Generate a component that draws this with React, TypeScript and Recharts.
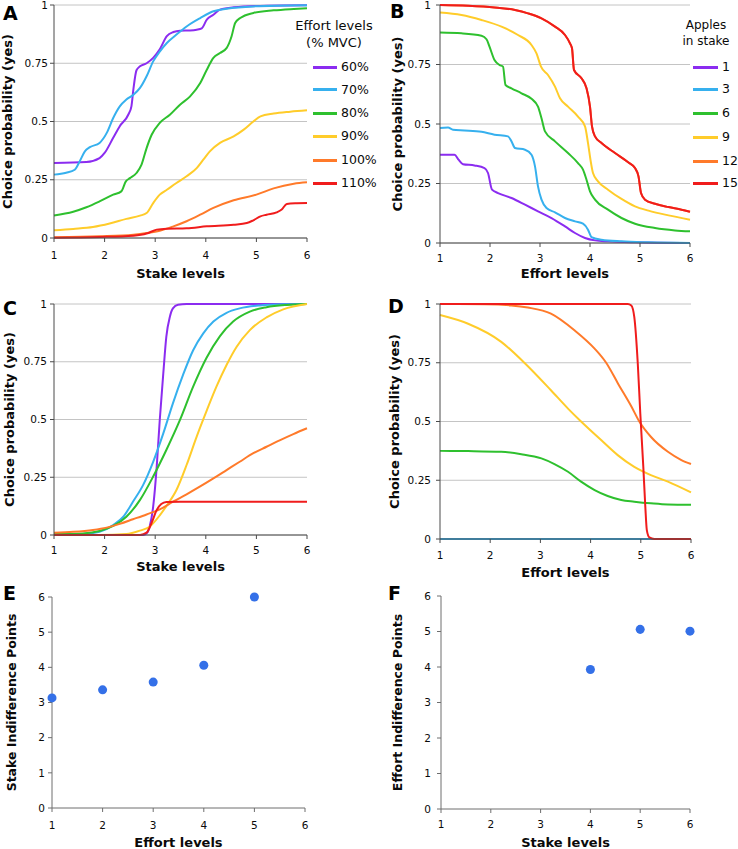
import React from 'react';
import { LineChart, Line, XAxis, YAxis, CartesianGrid, Legend, ScatterChart, Scatter, ZAxis } from 'recharts';

const FONT = '"DejaVu Sans", Verdana, sans-serif';

// ---------- shared ----------
const COLORS = ['#8b2cf0', '#36b0ee', '#2ec02e', '#ffcc2a', '#ff7a2a', '#f01c1c'];
const PROB_TICKS = [0, 0.25, 0.5, 0.75, 1];
const LEVEL_TICKS = [1, 2, 3, 4, 5, 6];
const POINT_TICKS_Y = [0, 1, 2, 3, 4, 5, 6];
const A_NAMES = ['60%', '70%', '80%', '90%', '100%', '110%'];
const B_NAMES = ['1', '3', '6', '9', '12', '15'];
const A_LEGEND_TITLE = ['Effort levels', '(% MVC)'];
const B_LEGEND_TITLE = ['Apples', 'in stake'];

// ---------- panel A (x: stake levels) ----------
const A_x_60 = [1, 1.64, 1.9, 2.0, 2.17, 2.3, 2.47, 2.53, 2.57, 2.63, 2.7, 2.83, 2.96, 3.09, 3.23, 3.36, 3.49, 3.69, 3.82, 3.92, 4.02, 4.15, 4.28, 4.55, 5.2, 6];
const A_y_60 = [0.322, 0.326, 0.343, 0.365, 0.43, 0.48, 0.53, 0.565, 0.64, 0.72, 0.737, 0.75, 0.773, 0.81, 0.866, 0.884, 0.89, 0.891, 0.894, 0.9, 0.937, 0.958, 0.98, 0.99, 0.997, 0.999];
const A_x_70 = [1, 1.24, 1.41, 1.51, 1.61, 1.71, 1.9, 2.04, 2.17, 2.3, 2.43, 2.57, 2.7, 2.83, 2.96, 3.09, 3.23, 3.42, 3.62, 3.89, 4.15, 4.41, 4.94, 6];
const A_y_70 = [0.272, 0.28, 0.293, 0.33, 0.372, 0.39, 0.408, 0.45, 0.515, 0.565, 0.594, 0.615, 0.644, 0.694, 0.758, 0.8, 0.837, 0.873, 0.908, 0.944, 0.973, 0.984, 0.994, 0.999];
const A_x_80 = [1, 1.38, 1.64, 1.9, 2.17, 2.33, 2.42, 2.5, 2.63, 2.73, 2.83, 2.93, 3.09, 3.29, 3.49, 3.69, 3.89, 4.02, 4.15, 4.28, 4.41, 4.51, 4.58, 4.68, 4.94, 5.34, 5.74, 6];
const A_y_80 = [0.097, 0.113, 0.132, 0.157, 0.186, 0.2, 0.243, 0.257, 0.279, 0.315, 0.386, 0.443, 0.494, 0.529, 0.572, 0.608, 0.665, 0.722, 0.773, 0.794, 0.815, 0.866, 0.923, 0.944, 0.966, 0.977, 0.983, 0.986];
const A_x_90 = [1, 1.38, 1.77, 2.1, 2.43, 2.7, 2.83, 2.96, 3.09, 3.23, 3.42, 3.62, 3.82, 3.95, 4.08, 4.28, 4.55, 4.75, 4.94, 5.08, 5.34, 5.67, 6];
const A_y_90 = [0.033, 0.039, 0.047, 0.062, 0.082, 0.096, 0.107, 0.15, 0.186, 0.207, 0.236, 0.265, 0.3, 0.336, 0.372, 0.408, 0.436, 0.465, 0.5, 0.522, 0.534, 0.542, 0.548];
const A_x_100 = [1, 1.9, 2.57, 2.83, 3.09, 3.36, 3.62, 3.89, 4.15, 4.55, 5.0, 5.34, 5.74, 6];
const A_y_100 = [0.003, 0.007, 0.014, 0.021, 0.031, 0.05, 0.072, 0.1, 0.129, 0.162, 0.186, 0.213, 0.233, 0.239];
const A_x_110 = [1, 1.9, 2.57, 2.83, 3.03, 3.23, 3.62, 4.02, 4.55, 4.81, 4.94, 5.08, 5.2, 5.4, 5.5, 5.6, 5.8, 6];
const A_y_110 = [0.001, 0.004, 0.01, 0.019, 0.036, 0.04, 0.042, 0.05, 0.057, 0.064, 0.076, 0.093, 0.1, 0.11, 0.122, 0.146, 0.149, 0.15];

// ---------- panel B (x: effort levels) ----------
const B_x_1 = [1, 1.29, 1.37, 1.46, 1.69, 1.89, 1.96, 2.04, 2.16, 2.43, 2.7, 2.96, 3.23, 3.5, 3.7, 3.9, 4.1, 4.36, 4.9, 6];
const B_y_1 = [0.371, 0.371, 0.35, 0.331, 0.326, 0.315, 0.294, 0.224, 0.21, 0.189, 0.161, 0.133, 0.105, 0.07, 0.042, 0.021, 0.011, 0.007, 0.003, 0];
const B_x_3 = [1, 1.16, 1.26, 1.49, 1.83, 2.09, 2.36, 2.43, 2.5, 2.7, 2.83, 2.9, 2.96, 3.03, 3.13, 3.3, 3.5, 3.7, 3.86, 3.96, 4.03, 4.23, 4.63, 5.17, 6];
const B_y_3 = [0.483, 0.485, 0.476, 0.473, 0.467, 0.455, 0.448, 0.427, 0.399, 0.392, 0.371, 0.322, 0.238, 0.182, 0.147, 0.129, 0.105, 0.091, 0.081, 0.056, 0.025, 0.014, 0.007, 0.003, 0];
const B_x_6 = [1, 1.43, 1.83, 1.93, 1.99, 2.09, 2.19, 2.26, 2.31, 2.43, 2.63, 2.83, 2.96, 3.03, 3.1, 3.3, 3.56, 3.76, 3.86, 3.93, 4.0, 4.1, 4.36, 4.63, 4.9, 5.3, 5.7, 6];
const B_y_6 = [0.884, 0.881, 0.871, 0.856, 0.825, 0.769, 0.748, 0.741, 0.664, 0.65, 0.629, 0.606, 0.573, 0.524, 0.469, 0.427, 0.378, 0.336, 0.308, 0.266, 0.217, 0.182, 0.14, 0.105, 0.081, 0.063, 0.053, 0.049];
const B_x_9 = [1, 1.43, 1.83, 2.23, 2.56, 2.83, 2.93, 3.02, 3.16, 3.3, 3.4, 3.56, 3.76, 3.9, 3.96, 4.02, 4.06, 4.16, 4.36, 4.63, 4.9, 5.17, 5.57, 6];
const B_y_9 = [0.968, 0.958, 0.937, 0.909, 0.874, 0.832, 0.797, 0.741, 0.706, 0.657, 0.608, 0.573, 0.531, 0.49, 0.42, 0.336, 0.294, 0.259, 0.224, 0.185, 0.154, 0.136, 0.116, 0.098];
const B_x_12 = [1, 1.56, 2.09, 2.5, 2.76, 3.03, 3.3, 3.5, 3.6, 3.64, 3.68, 3.83, 3.93, 4.0, 4.04, 4.1, 4.23, 4.5, 4.77, 4.9, 4.97, 5.02, 5.1, 5.3, 5.57, 5.83, 6];
const B_y_12 = [1.0, 0.997, 0.99, 0.979, 0.965, 0.944, 0.909, 0.874, 0.839, 0.818, 0.727, 0.692, 0.65, 0.573, 0.49, 0.448, 0.42, 0.378, 0.338, 0.315, 0.28, 0.21, 0.182, 0.165, 0.151, 0.14, 0.131];
const B_x_15 = [1, 1.56, 2.09, 2.5, 2.76, 3.03, 3.3, 3.5, 3.6, 3.64, 3.68, 3.83, 3.93, 4.0, 4.04, 4.1, 4.23, 4.5, 4.77, 4.9, 4.97, 5.02, 5.1, 5.3, 5.57, 5.83, 6];
const B_y_15 = [1.0, 0.997, 0.99, 0.979, 0.965, 0.944, 0.909, 0.874, 0.839, 0.818, 0.727, 0.692, 0.65, 0.573, 0.49, 0.448, 0.42, 0.378, 0.338, 0.315, 0.28, 0.21, 0.182, 0.165, 0.151, 0.14, 0.131];

// ---------- panel C (x: stake levels) ----------
const C_x_60 = [1, 2.76, 2.83, 2.89, 2.96, 3.03, 3.09, 3.16, 3.22, 3.29, 3.35, 3.45, 3.62, 6];
const C_y_60 = [0, 0, 0.007, 0.036, 0.123, 0.296, 0.498, 0.7, 0.859, 0.945, 0.981, 0.997, 1.0, 1.0];
const C_x_70 = [1, 1.57, 1.9, 2.17, 2.37, 2.56, 2.76, 2.96, 3.16, 3.35, 3.55, 3.75, 3.95, 4.15, 4.41, 4.67, 5.07, 5.53, 6];
const C_y_70 = [0.002, 0.004, 0.014, 0.043, 0.079, 0.144, 0.216, 0.317, 0.44, 0.57, 0.693, 0.8, 0.873, 0.924, 0.962, 0.981, 0.994, 0.999, 1.0];
const C_x_80 = [1, 1.57, 1.9, 2.17, 2.43, 2.7, 2.96, 3.22, 3.49, 3.75, 4.01, 4.28, 4.54, 4.87, 5.2, 5.6, 6];
const C_y_80 = [0.004, 0.007, 0.017, 0.039, 0.079, 0.152, 0.253, 0.368, 0.498, 0.642, 0.765, 0.861, 0.924, 0.967, 0.986, 0.996, 1.0];
const C_x_90 = [1, 1.9, 2.43, 2.7, 2.89, 3.09, 3.22, 3.42, 3.62, 3.82, 4.01, 4.21, 4.41, 4.61, 4.87, 5.2, 5.53, 6];
const C_y_90 = [0, 0, 0.004, 0.019, 0.036, 0.085, 0.125, 0.195, 0.303, 0.426, 0.534, 0.642, 0.736, 0.815, 0.887, 0.942, 0.977, 1.0];
const C_x_100 = [1, 1.38, 1.77, 2.04, 2.3, 2.56, 2.83, 3.09, 3.35, 3.62, 3.88, 4.15, 4.41, 4.67, 4.94, 5.2, 5.47, 5.73, 6];
const C_y_100 = [0.01, 0.014, 0.022, 0.032, 0.048, 0.068, 0.089, 0.111, 0.144, 0.176, 0.209, 0.245, 0.281, 0.317, 0.354, 0.382, 0.411, 0.437, 0.462];
const C_x_110 = [1, 2.7, 2.83, 2.93, 3.03, 3.12, 3.22, 3.49, 6];
const C_y_110 = [0, 0, 0.01, 0.053, 0.108, 0.134, 0.143, 0.144, 0.144];

// ---------- panel D (x: effort levels) ----------
const D_x_60 = [1, 6];
const D_y_60 = [0, 0];
const D_x_70 = [1, 6];
const D_y_70 = [0, 0];
const D_x_80 = [1, 1.56, 2.22, 2.62, 3.02, 3.28, 3.55, 3.81, 4.08, 4.34, 4.61, 4.87, 5.2, 5.54, 6];
const D_y_80 = [0.375, 0.374, 0.371, 0.361, 0.343, 0.319, 0.286, 0.244, 0.208, 0.183, 0.166, 0.159, 0.152, 0.147, 0.146];
const D_x_90 = [1, 1.56, 2.22, 2.68, 3.21, 3.55, 3.81, 4.21, 4.54, 4.87, 5.2, 5.54, 6];
const D_y_90 = [0.953, 0.916, 0.839, 0.75, 0.633, 0.555, 0.5, 0.421, 0.357, 0.307, 0.272, 0.244, 0.198];
const D_x_100 = [1, 1.89, 2.42, 2.75, 3.21, 3.68, 4.08, 4.31, 4.55, 4.81, 4.97, 5.2, 5.54, 5.8, 6];
const D_y_100 = [1.0, 0.999, 0.994, 0.985, 0.959, 0.888, 0.81, 0.75, 0.66, 0.565, 0.5, 0.435, 0.371, 0.337, 0.319];
const D_x_110 = [1, 4.74, 4.81, 4.87, 4.94, 4.99, 5.05, 5.09, 5.12, 5.17, 5.27, 6];
const D_y_110 = [1, 1, 0.994, 0.945, 0.746, 0.534, 0.307, 0.137, 0.038, 0.007, 0, 0];

// ---------- panels E, F (indifference points) ----------
const E_x = [1, 2, 3, 4, 5];
const E_y = [3.13, 3.36, 3.58, 4.06, 6.0];
const F_x = [4, 5, 6];
const F_y = [3.93, 5.06, 5.01];

type Pt = { x: number; y: number };
const pts = (xs: number[], ys: number[]): Pt[] => xs.map((x, i) => ({ x, y: ys[i] }));

const mkSeries = (names: string[], xs: number[][], ys: number[][]) =>
  names.map((name, i) => ({ name, color: COLORS[i], data: pts(xs[i], ys[i]) }));

const SERIES_A = mkSeries(A_NAMES, [A_x_60, A_x_70, A_x_80, A_x_90, A_x_100, A_x_110], [A_y_60, A_y_70, A_y_80, A_y_90, A_y_100, A_y_110]);
const SERIES_B = mkSeries(B_NAMES, [B_x_1, B_x_3, B_x_6, B_x_9, B_x_12, B_x_15], [B_y_1, B_y_3, B_y_6, B_y_9, B_y_12, B_y_15]);
const SERIES_C = mkSeries(A_NAMES, [C_x_60, C_x_70, C_x_80, C_x_90, C_x_100, C_x_110], [C_y_60, C_y_70, C_y_80, C_y_90, C_y_100, C_y_110]);
const SERIES_D = mkSeries(A_NAMES, [D_x_60, D_x_70, D_x_80, D_x_90, D_x_100, D_x_110], [D_y_60, D_y_70, D_y_80, D_y_90, D_y_100, D_y_110]);

const AXIS_COLOR = '#4a4a4a';
const TEXT_COLOR = '#0a0a0a';
const TICK_STYLE = { fill: TEXT_COLOR, fontSize: 10.5 };

type LegendCfg = {
  left: number;
  titles: string[];
  titleCenter: number;
  titleTops: number[];
  titleSize: number;
  rows: number[];
  swLeft: number;
  swWidth: number;
  labelLeft: number;
};

function LegendBox({ cfg, series }: { cfg: LegendCfg; series: { name: string; color: string }[] }) {
  return (
    <div style={{ position: 'relative', width: 100, height: 200, fontFamily: FONT, color: TEXT_COLOR }}>
      {cfg.titles.map((t, i) => (
        <div
          key={t}
          style={{
            position: 'absolute',
            left: cfg.titleCenter,
            top: cfg.titleTops[i],
            transform: 'translateX(-50%)',
            whiteSpace: 'nowrap',
            fontSize: cfg.titleSize,
            lineHeight: '16px',
          }}
        >
          {t}
        </div>
      ))}
      {series.map((s, i) => (
        <React.Fragment key={s.name}>
          <div
            style={{
              position: 'absolute',
              left: cfg.swLeft,
              top: cfg.rows[i] - 1.5,
              width: cfg.swWidth,
              height: 3,
              background: s.color,
            }}
          />
          <div
            style={{
              position: 'absolute',
              left: cfg.labelLeft,
              top: cfg.rows[i] - 8,
              fontSize: 12.5,
              lineHeight: '16px',
              whiteSpace: 'nowrap',
            }}
          >
            {s.name}
          </div>
        </React.Fragment>
      ))}
    </div>
  );
}

type ProbProps = {
  left: number;
  top: number;
  width: number;
  height: number;
  margin: { top: number; right: number; left: number; bottom: number };
  yAxisWidth: number;
  xAxisHeight: number;
  series: { name: string; color: string; data: Pt[] }[];
  xTitle: string;
  xTitleOffset: number;
  yTitleOffset: number;
  xTickMargin: number;
  yTickMargin: number;
  legend?: LegendCfg;
};

function ProbPanel(p: ProbProps) {
  return (
    <div style={{ position: 'absolute', left: p.left, top: p.top }}>
      <LineChart width={p.width} height={p.height} margin={p.margin}>
        <CartesianGrid vertical={false} stroke="#c4c4c4" strokeWidth={1} />
        <XAxis
          type="number"
          dataKey="x"
          domain={[1, 6]}
          ticks={LEVEL_TICKS}
          height={p.xAxisHeight}
          stroke={AXIS_COLOR}
          tickSize={4}
          tickMargin={p.xTickMargin}
          tick={TICK_STYLE}
          label={{
            value: p.xTitle,
            position: 'insideBottom',
            offset: p.xTitleOffset,
            style: { fontWeight: 'bold', fontSize: 13, fill: TEXT_COLOR },
          }}
        />
        <YAxis
          type="number"
          domain={[0, 1]}
          ticks={PROB_TICKS}
          width={p.yAxisWidth}
          stroke={AXIS_COLOR}
          tickSize={4}
          tickMargin={p.yTickMargin}
          tick={TICK_STYLE}
          label={{
            value: 'Choice probability (yes)',
            angle: -90,
            position: 'insideLeft',
            offset: p.yTitleOffset,
            style: { textAnchor: 'middle', fontWeight: 'bold', fontSize: 13, fill: TEXT_COLOR },
          }}
        />
        {p.series.map((s) => (
          <Line
            key={s.name}
            data={s.data}
            dataKey="y"
            name={s.name}
            type="monotone"
            stroke={s.color}
            strokeWidth={2}
            dot={false}
            activeDot={false}
            isAnimationActive={false}
          />
        ))}
        {p.legend ? (
          <Legend
            layout="vertical"
            align="center"
            verticalAlign="middle"
            wrapperStyle={{ left: p.legend.left, top: 0, width: 100, height: 200 }}
            content={() => <LegendBox cfg={p.legend as LegendCfg} series={p.series} />}
          />
        ) : null}
      </LineChart>
    </div>
  );
}

type PointProps = {
  left: number;
  top: number;
  width: number;
  height: number;
  margin: { top: number; right: number; left: number; bottom: number };
  yAxisWidth: number;
  xAxisHeight: number;
  data: Pt[];
  xTitle: string;
  yTitle: string;
  xTitleOffset: number;
  yTitleOffset: number;
  xTickMargin: number;
  yTickMargin: number;
};

function PointPanel(p: PointProps) {
  return (
    <div style={{ position: 'absolute', left: p.left, top: p.top }}>
      <ScatterChart width={p.width} height={p.height} margin={p.margin}>
        <XAxis
          type="number"
          dataKey="x"
          domain={[1, 6]}
          ticks={LEVEL_TICKS}
          height={p.xAxisHeight}
          stroke="#6e6e6e"
          tickSize={4}
          tickMargin={p.xTickMargin}
          tick={TICK_STYLE}
          label={{
            value: p.xTitle,
            position: 'insideBottom',
            offset: p.xTitleOffset,
            style: { fontWeight: 'bold', fontSize: 13, fill: TEXT_COLOR },
          }}
        />
        <YAxis
          type="number"
          dataKey="y"
          domain={[0, 6]}
          ticks={POINT_TICKS_Y}
          width={p.yAxisWidth}
          stroke="#6e6e6e"
          tickSize={4}
          tickMargin={p.yTickMargin}
          tick={TICK_STYLE}
          label={{
            value: p.yTitle,
            angle: -90,
            position: 'insideLeft',
            offset: p.yTitleOffset,
            style: { textAnchor: 'middle', fontWeight: 'bold', fontSize: 12.5, fill: TEXT_COLOR },
          }}
        />
        <ZAxis range={[60, 60]} />
        <Scatter data={p.data} fill="#3470e8" isAnimationActive={false} />
      </ScatterChart>
    </div>
  );
}

const letterStyle = (left: number, top: number): React.CSSProperties => ({
  position: 'absolute',
  left,
  top,
  fontFamily: FONT,
  fontWeight: 'bold',
  fontSize: 19,
  lineHeight: '19px',
  color: '#000',
});

export default function App() {
  return (
    <div style={{ position: 'absolute', left: 0, top: 0, width: 738, height: 849, background: '#fff', fontFamily: FONT }}>
      <ProbPanel
        left={0}
        top={0}
        width={370}
        height={290}
        margin={{ top: 5, right: 63, left: 0, bottom: 0 }}
        yAxisWidth={54}
        xAxisHeight={52}
        series={SERIES_A}
        xTitle="Stake levels"
        xTitleOffset={12}
        yTitleOffset={7}
        xTickMargin={10}
        yTickMargin={2}
        legend={{
          left: 290,
          titles: A_LEGEND_TITLE,
          titleCenter: 44,
          titleTops: [18, 35],
          titleSize: 13,
          rows: [67, 89.5, 113, 136, 160, 183],
          swLeft: 23,
          swWidth: 24,
          labelLeft: 51,
        }}
      />
      <ProbPanel
        left={370}
        top={0}
        width={368}
        height={290}
        margin={{ top: 5, right: 48, left: 0, bottom: 0 }}
        yAxisWidth={70}
        xAxisHeight={47}
        series={SERIES_B}
        xTitle="Effort levels"
        xTitleOffset={12}
        yTitleOffset={27}
        xTickMargin={8}
        yTickMargin={5}
        legend={{
          left: 310,
          titles: B_LEGEND_TITLE,
          titleCenter: 26,
          titleTops: [17, 33],
          titleSize: 12,
          rows: [67, 89, 113, 137, 161, 183],
          swLeft: 13,
          swWidth: 25,
          labelLeft: 42,
        }}
      />
      <ProbPanel
        left={0}
        top={290}
        width={370}
        height={290}
        margin={{ top: 14, right: 63, left: 0, bottom: 0 }}
        yAxisWidth={54}
        xAxisHeight={45}
        series={SERIES_C}
        xTitle="Stake levels"
        xTitleOffset={9}
        yTitleOffset={9}
        xTickMargin={8}
        yTickMargin={3}
      />
      <ProbPanel
        left={370}
        top={290}
        width={368}
        height={290}
        margin={{ top: 14, right: 47, left: 0, bottom: 0 }}
        yAxisWidth={70}
        xAxisHeight={41}
        series={SERIES_D}
        xTitle="Effort levels"
        xTitleOffset={3}
        yTitleOffset={24}
        xTickMargin={9}
        yTickMargin={5}
      />
      <PointPanel
        left={0}
        top={580}
        width={370}
        height={269}
        margin={{ top: 17, right: 65, left: 0, bottom: 0 }}
        yAxisWidth={52}
        xAxisHeight={41}
        data={pts(E_x, E_y)}
        xTitle="Effort levels"
        yTitle="Stake Indifference Points"
        xTitleOffset={2}
        yTitleOffset={12}
        xTickMargin={10}
        yTickMargin={3}
      />
      <PointPanel
        left={370}
        top={580}
        width={368}
        height={269}
        margin={{ top: 16, right: 48, left: 0, bottom: 0 }}
        yAxisWidth={71}
        xAxisHeight={40}
        data={pts(F_x, F_y)}
        xTitle="Stake levels"
        yTitle="Effort Indifference Points"
        xTitleOffset={2}
        yTitleOffset={28}
        xTickMargin={8}
        yTickMargin={6}
      />
      <div style={letterStyle(3, 4)}>A</div>
      <div style={letterStyle(390, 2)}>B</div>
      <div style={letterStyle(3, 299)}>C</div>
      <div style={letterStyle(388, 297)}>D</div>
      <div style={letterStyle(3, 584)}>E</div>
      <div style={letterStyle(388, 584)}>F</div>
    </div>
  );
}
